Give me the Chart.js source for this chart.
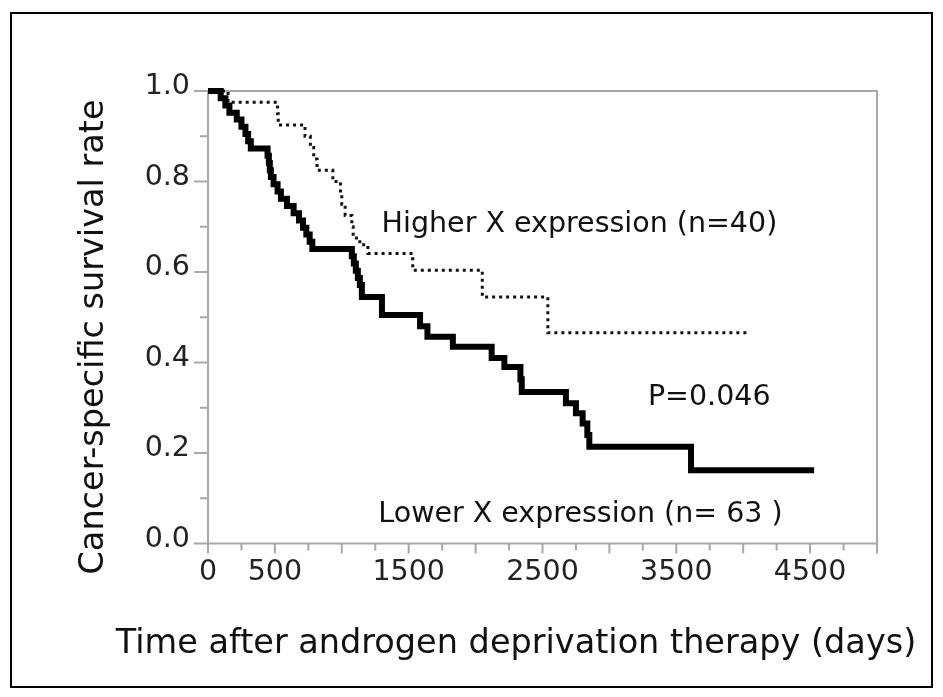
<!DOCTYPE html>
<html>
<head>
<meta charset="utf-8">
<script src="https://cdn.jsdelivr.net/npm/chart.js@4.4.0/dist/chart.umd.min.js"></script>
<style>
  body { margin: 0; background: #fff; }
  canvas { display: block; }
</style>
</head>
<body>
<canvas id="kmChart" width="943" height="697"></canvas>
<script>
// Kaplan-Meier steps: day of the step, survival from that day on
const lowerDays = [0, 95, 130, 160, 215, 250, 280, 300, 320, 445, 455, 462, 470, 490, 520, 545, 590, 640, 680, 710, 735, 760, 780,
  1075, 1090, 1105, 1120, 1135, 1150, 1300, 1585, 1640, 1830, 2120, 2215, 2335, 2345, 2675, 2750, 2800, 2835, 2850, 3610, 4530];
const lowerSurv = [1.0, 0.984, 0.968, 0.952, 0.937, 0.921, 0.905, 0.889, 0.873, 0.857, 0.841, 0.825, 0.81, 0.794, 0.778, 0.762, 0.746, 0.73, 0.714, 0.698, 0.683, 0.667, 0.651,
  0.635, 0.619, 0.603, 0.587, 0.571, 0.545, 0.505, 0.48, 0.457, 0.435, 0.41, 0.39, 0.363, 0.335, 0.31, 0.288, 0.265, 0.24, 0.214, 0.162, 0.162];

const higherDays = [0, 150, 520, 525, 725, 765, 790, 815, 933, 990, 1000, 1025, 1075, 1085, 1135, 1195, 1530, 2050, 2540, 4030];
const higherSurv = [1.0, 0.975, 0.95, 0.925, 0.9, 0.875, 0.85, 0.825, 0.8, 0.775, 0.75, 0.725, 0.7, 0.675, 0.66, 0.641, 0.604, 0.545, 0.466, 0.466];

const xTickLabels = [0, 500, 1500, 2500, 3500, 4500];
const yTickLabels = [0, 0.2, 0.4, 0.6, 0.8, 1.0];

const notes = [
  { text: 'Higher X expression (n=40)', day: 2776, surv: 0.704 },
  { text: 'P=0.046', day: 3746, surv: 0.323 },
  { text: 'Lower X expression (n= 63 )', day: 2784, surv: 0.063 }
];

const xTitle = 'Time after androgen deprivation therapy (days)';
const yTitle = 'Cancer-specific survival rate';

const toPoints = (days, surv) => days.map((d, i) => ({ x: d, y: surv[i] }));

// frame, tick marks, notes and axis titles
const decor = {
  id: 'decor',
  beforeDatasetsDraw(chart) {
    const { ctx, chartArea: a, scales } = chart;
    ctx.save();
    ctx.strokeStyle = '#a8a8a8';
    ctx.lineWidth = 2;
    ctx.strokeRect(a.left, a.top, a.right - a.left, a.bottom - a.top);
    ctx.beginPath();
    scales.x.ticks.forEach(t => {
      const px = scales.x.getPixelForValue(t.value);
      const len = t.value % 500 === 0 ? 10 : 7;
      ctx.moveTo(px, a.bottom);
      ctx.lineTo(px, a.bottom + len);
    });
    scales.y.ticks.forEach(t => {
      const py = scales.y.getPixelForValue(t.value);
      const len = Math.round(t.value * 10) % 2 === 0 ? 14 : 8;
      ctx.moveTo(a.left, py);
      ctx.lineTo(a.left - len, py);
    });
    ctx.stroke();
    ctx.restore();
  },
  afterDraw(chart) {
    const { ctx, scales } = chart;
    ctx.save();
    ctx.fillStyle = '#111';
    ctx.textAlign = 'center';
    ctx.textBaseline = 'middle';
    ctx.font = '28.5px "DejaVu Sans"';
    notes.forEach(n => {
      ctx.fillText(n.text, scales.x.getPixelForValue(n.day), scales.y.getPixelForValue(n.surv));
    });
    ctx.font = '33.5px "DejaVu Sans"';
    ctx.textBaseline = 'alphabetic';
    ctx.fillText(xTitle, 516, 653);
    ctx.translate(103, 337);
    ctx.rotate(-Math.PI / 2);
    ctx.fillText(yTitle, 0, 0);
    ctx.restore();
    // outer box of the figure
    ctx.save();
    ctx.strokeStyle = '#000';
    ctx.lineWidth = 2;
    ctx.strokeRect(11, 13, 921, 674);
    ctx.restore();
  }
};

new Chart(document.getElementById('kmChart'), {
  type: 'line',
  data: {
    datasets: [{
      label: 'Lower X expression (n=63)',
      data: toPoints(lowerDays, lowerSurv),
      borderColor: '#000',
      borderWidth: 6,
      stepped: true,
      pointRadius: 0,
      clip: false
    }, {
      label: 'Higher X expression (n=40)',
      data: toPoints(higherDays, higherSurv),
      borderColor: '#111',
      borderWidth: 3,
      borderDash: [3, 4],
      stepped: true,
      pointRadius: 0,
      clip: false
    }]
  },
  options: {
    responsive: false,
    animation: false,
    devicePixelRatio: 1,
    layout: { padding: { left: 0, top: 91, right: 66, bottom: 0 } },
    plugins: { legend: { display: false }, tooltip: { enabled: false } },
    scales: {
      x: {
        type: 'linear',
        min: 0,
        max: 5000,
        afterFit: s => { s.height = 153.5; },
        grid: { display: false, drawTicks: false },
        border: { display: false },
        ticks: {
          stepSize: 250,
          autoSkip: false,
          maxRotation: 0,
          padding: 12,
          color: '#222',
          font: { family: 'DejaVu Sans', size: 28.5 },
          callback: v => xTickLabels.includes(v) ? String(v) : ''
        }
      },
      y: {
        min: 0,
        max: 1,
        afterFit: s => { s.width = 208; },
        grid: { display: false, drawTicks: false },
        border: { display: false },
        ticks: {
          stepSize: 0.1,
          autoSkip: false,
          padding: 18,
          labelOffset: -4,
          color: '#222',
          font: { family: 'DejaVu Sans', size: 28.5 },
          callback: v => yTickLabels.some(t => Math.abs(t - v) < 1e-6) ? v.toFixed(1) : ''
        }
      }
    }
  },
  plugins: [decor]
});
</script>
</body>
</html>
